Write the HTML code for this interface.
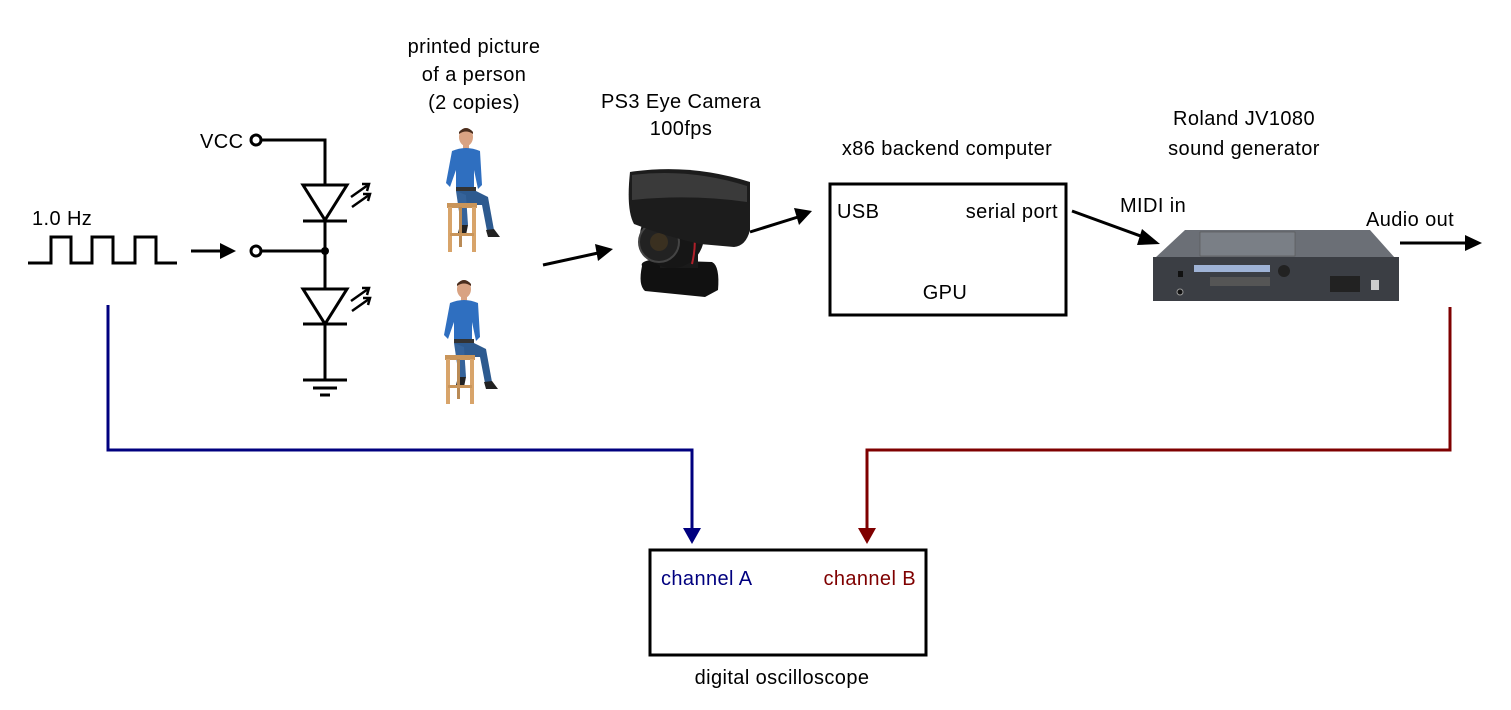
<!DOCTYPE html>
<html><head><meta charset="utf-8"><style>
html,body{margin:0;padding:0;background:#fff;}
svg{display:block;}
text{font-family:"Liberation Sans",sans-serif;font-size:20px;letter-spacing:0.4px;fill:#000;}
</style></head><body>
<svg width="1511" height="710" viewBox="0 0 1511 710" xmlns="http://www.w3.org/2000/svg">
<defs>
<g id="person">
  <ellipse cx="22" cy="12" rx="7" ry="9" fill="#d9a383"/>
  <path d="M15,7 Q22,-1 29,7 L29,9 Q22,4 15,9Z" fill="#4a2e1e"/>
  <rect x="19" y="19" width="6" height="5" fill="#d9a383"/>
  <path d="M8,26 Q22,20 36,26 L38,60 L34,64 L30,45 L30,65 L12,65 L12,45 L6,62 L2,58Z" fill="#2f6fc0"/>
  <rect x="12" y="62" width="20" height="4" fill="#333"/>
  <path d="M12,66 L32,66 L44,72 L50,105 L43,106 L38,80 L20,80 L18,75 Z" fill="#2d5a8f"/>
  <path d="M12,66 L22,70 L24,100 L17,100 Z" fill="#35639a"/>
  <path d="M16,100 L24,100 L22,110 L14,108Z" fill="#222"/>
  <path d="M42,105 L50,104 L56,112 L44,112Z" fill="#222"/>
  <rect x="3" y="78" width="30" height="5" fill="#c9955a"/>
  <rect x="4" y="82" width="4" height="45" fill="#d8a46a"/>
  <rect x="28" y="82" width="4" height="45" fill="#d8a46a"/>
  <rect x="15" y="82" width="3" height="40" fill="#b98a55"/>
  <rect x="6" y="108" width="24" height="3" fill="#c9955a"/>
</g>
</defs>

<text x="474" y="53" text-anchor="middle">printed picture</text>
<text x="474" y="81" text-anchor="middle">of a person</text>
<text x="474" y="109" text-anchor="middle">(2 copies)</text>
<text x="681" y="108" text-anchor="middle">PS3 Eye Camera</text>
<text x="681" y="135" text-anchor="middle">100fps</text>
<text x="947" y="155" text-anchor="middle">x86 backend computer</text>
<text x="1244" y="125" text-anchor="middle">Roland JV1080</text>
<text x="1244" y="155" text-anchor="middle">sound generator</text>

<text x="32" y="225">1.0 Hz</text>
<polyline points="28,263 51,263 51,237 71,237 71,263 92,263 92,237 113,237 113,263 135,263 135,237 156,237 156,263 177,263" fill="none" stroke="#000" stroke-width="3"/>
<line x1="191" y1="251" x2="222" y2="251" stroke="#000" stroke-width="3"/>
<polygon points="220,243 236,251 220,259" fill="#000"/>

<text x="200" y="148">VCC</text>
<circle cx="256" cy="140" r="5" fill="#fff" stroke="#000" stroke-width="3"/>
<polyline points="261,140 325,140 325,183" fill="none" stroke="#000" stroke-width="3"/>
<circle cx="256" cy="251" r="5" fill="#fff" stroke="#000" stroke-width="3"/>
<line x1="261" y1="251" x2="325" y2="251" stroke="#000" stroke-width="3"/>
<circle cx="325" cy="251" r="4" fill="#000"/>
<line x1="325" y1="183" x2="325" y2="380" stroke="#000" stroke-width="3"/>
<polygon points="303,185 347,185 325,220" fill="#fff" stroke="#000" stroke-width="3"/>
<line x1="303" y1="221" x2="347" y2="221" stroke="#000" stroke-width="3"/>
<polygon points="303,289 347,289 325,324" fill="#fff" stroke="#000" stroke-width="3"/>
<line x1="303" y1="324" x2="347" y2="324" stroke="#000" stroke-width="3"/>
<g stroke="#000" stroke-width="2.5" fill="none">
 <line x1="351" y1="197" x2="368" y2="185"/><polyline points="362,184 369,184 367,191"/>
 <line x1="352" y1="207" x2="369" y2="195"/><polyline points="363,194 370,194 368,201"/>
 <line x1="351" y1="301" x2="368" y2="289"/><polyline points="362,288 369,288 367,295"/>
 <line x1="352" y1="311" x2="369" y2="299"/><polyline points="363,298 370,298 368,305"/>
</g>
<line x1="303" y1="380" x2="347" y2="380" stroke="#000" stroke-width="3"/>
<line x1="313" y1="388" x2="337" y2="388" stroke="#000" stroke-width="3"/>
<line x1="320" y1="395" x2="330" y2="395" stroke="#000" stroke-width="3"/>

<use href="#person" transform="translate(444,125)"/>
<use href="#person" transform="translate(442,277)"/>

<line x1="543" y1="265" x2="598" y2="253" stroke="#000" stroke-width="3"/>
<polygon points="595,244 613,249 598,261" fill="#000"/>

<g>
 <path d="M642,266 Q640,262 650,260 L712,262 Q720,266 718,290 L705,297 L645,291 Q638,285 642,266Z" fill="#111"/>
 <rect x="660" y="238" width="38" height="30" fill="#1a1a1a"/>
 <circle cx="672" cy="236" r="32" fill="#161616"/>
 <circle cx="659" cy="242" r="20" fill="#222" stroke="#444" stroke-width="2"/>
 <circle cx="659" cy="242" r="9" fill="#3a3020"/>
 <path d="M676,208 Q702,222 692,264" fill="none" stroke="#b0202a" stroke-width="2"/>
 <path d="M630,172 Q690,163 750,182 L750,230 Q746,246 734,247 L700,244 Q664,236 634,224 Q626,210 630,172Z" fill="#1c1c1c"/>
 <path d="M632,175 Q690,168 747,186 L747,202 Q690,194 632,200Z" fill="#3a3a3a"/>
</g>

<line x1="750" y1="232" x2="798" y2="217" stroke="#000" stroke-width="3"/>
<polygon points="794,208 812,211 799,225" fill="#000"/>

<rect x="830" y="184" width="236" height="131" fill="#fff" stroke="#000" stroke-width="3"/>
<text x="837" y="218">USB</text>
<text x="1058" y="218" text-anchor="end">serial port</text>
<text x="945" y="299" text-anchor="middle">GPU</text>

<text x="1120" y="212">MIDI in</text>
<line x1="1072" y1="211" x2="1146" y2="238" stroke="#000" stroke-width="3"/>
<polygon points="1142,229 1160,244 1137,245" fill="#000"/>

<g>
 <path d="M1185,230 L1370,230 L1395,258 L1155,258Z" fill="#6b6f76"/>
 <rect x="1200" y="232" width="95" height="24" fill="#7a7f86" stroke="#555" stroke-width="0.6"/>
 <rect x="1153" y="257" width="246" height="44" fill="#3b3e44"/>
 <rect x="1194" y="265" width="76" height="7" fill="#9fb3d6"/>
 <circle cx="1284" cy="271" r="6" fill="#222"/>
 <rect x="1210" y="277" width="60" height="9" fill="#555"/>
 <rect x="1330" y="276" width="30" height="16" fill="#222"/>
 <rect x="1371" y="280" width="8" height="10" fill="#ccc"/>
 <circle cx="1180" cy="292" r="3" fill="#111" stroke="#999"/>
 <rect x="1178" y="271" width="5" height="6" fill="#111"/>
</g>

<text x="1366" y="226">Audio out</text>
<line x1="1400" y1="243" x2="1466" y2="243" stroke="#000" stroke-width="3"/>
<polygon points="1465,235 1482,243 1465,251" fill="#000"/>

<polyline points="108,305 108,450 692,450 692,530" fill="none" stroke="#00007f" stroke-width="3"/>
<polygon points="683,528 701,528 692,544" fill="#00007f"/>
<polyline points="1450,307 1450,450 867,450 867,530" fill="none" stroke="#7f0000" stroke-width="3"/>
<polygon points="858,528 876,528 867,544" fill="#7f0000"/>

<rect x="650" y="550" width="276" height="105" fill="#fff" stroke="#000" stroke-width="3"/>
<text x="661" y="585" style="fill:#00007f">channel A</text>
<text x="916" y="585" text-anchor="end" style="fill:#7f0000">channel B</text>
<text x="782" y="684" text-anchor="middle">digital oscilloscope</text>
</svg>
</body></html>
